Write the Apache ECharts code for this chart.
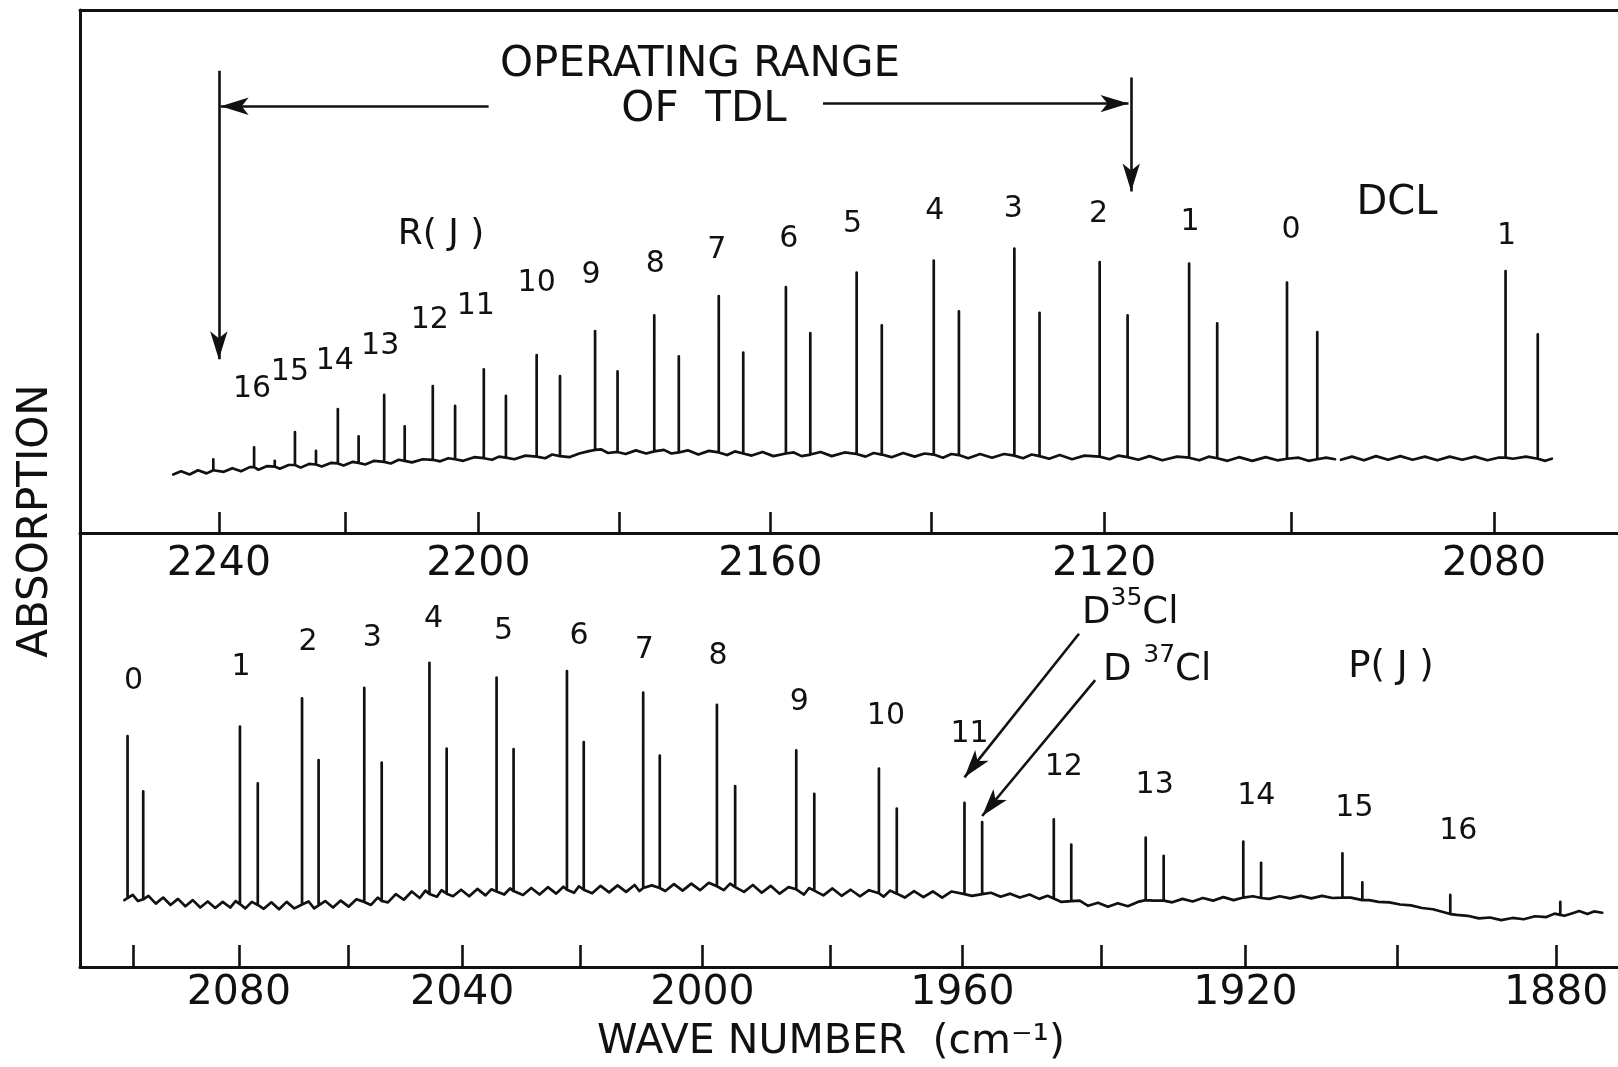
<!DOCTYPE html>
<html>
<head>
<meta charset="utf-8">
<title>DCl absorption spectrum</title>
<script src="https://cdn.jsdelivr.net/npm/echarts@6/dist/echarts.min.js"></script>
<style>
  html, body { margin: 0; padding: 0; background: #ffffff; }
  #chart { width: 1618px; height: 1067px; }
</style>
</head>
<body>
<div id="chart"></div>
<script>
// ---------------------------------------------------------------------------
// Wavenumber scales. The recorder paper is not linear in wavenumber: it follows
// log(nu - nu0) closely, so each panel uses a log axis on (nu - nu0) and the
// ticks are labelled back in cm^-1.
// ---------------------------------------------------------------------------
const TOP_NU0 = 1860;
const BOTTOM_NU0 = 1490;
const TOP_RANGE = [2263.3, 2068.6];      // left edge, right edge (cm^-1)
const BOTTOM_RANGE = [2110.2, 1872.5];

const TOP_TICKS = [2240, 2220, 2200, 2180, 2160, 2140, 2120, 2100, 2080];
const TOP_TICK_LABELS = [2240, 2200, 2160, 2120, 2080];
const BOTTOM_TICKS = [2100, 2080, 2060, 2040, 2020, 2000, 1980, 1960, 1940, 1920, 1900, 1880];
const BOTTOM_TICK_LABELS = [2080, 2040, 2000, 1960, 1920, 1880];

// ---------------------------------------------------------------------------
// Upper trace: R branch of DCl.  Lines are [nu, foot, peak] in relative absorption.
// ---------------------------------------------------------------------------
const TOP_J = ['16', '15', '14', '13', '12', '11', '10', '9', '8', '7', '6', '5', '4', '3', '2', '1', '0', '1'];
const TOP_D35 = [
  [2234.3, 12.6, 16.4], [2227.8, 13.0, 19.3], [2221.1, 13.3, 23.7], [2214.0, 13.6, 26.4],
  [2206.7, 14.0, 28.1], [2199.2, 14.3, 31.3], [2191.6, 14.6, 34.0], [2183.4, 15.9, 38.6],
  [2175.3, 15.6, 41.6], [2166.7, 15.4, 45.3], [2158.0, 15.2, 47.0], [2149.1, 15.1, 49.8],
  [2139.7, 15.0, 52.1], [2130.2, 14.8, 54.4], [2120.5, 14.6, 51.8], [2110.7, 14.4, 51.5],
  [2100.4, 14.2, 47.9], [2078.9, 14.4, 50.1]
];
const TOP_D37 = [
  [2231.0, 12.7, 13.8], [2224.5, 13.1, 15.7], [2217.9, 13.4, 18.5], [2210.9, 13.8, 20.4],
  [2203.4, 14.1, 24.3], [2196.0, 14.4, 26.2], [2188.3, 14.7, 30.0], [2180.3, 15.5, 30.9],
  [2172.0, 15.4, 33.8], [2163.5, 15.2, 34.5], [2154.9, 15.0, 38.2], [2146.0, 15.0, 39.7],
  [2136.7, 14.9, 42.4], [2127.3, 14.7, 42.1], [2117.4, 14.5, 41.6], [2107.7, 14.3, 40.1],
  [2097.3, 14.1, 38.4], [2075.9, 14.2, 38.0]
];
const TOP_MINOR = [[2240.9, 12.0, 14.1]];

// Baseline of the upper trace, two pen strokes with a short break near 2095 cm^-1.
const TOP_BASELINE_A = [
  [2247.5, 11.2], [2246.2, 11.8], [2244.8, 11.2], [2243.4, 12.0], [2242.0, 11.4], [2240.6, 12.0],
  [2239.2, 11.7], [2237.8, 12.4], [2236.4, 11.8], [2235.0, 12.6], [2233.6, 12.1], [2232.2, 12.8],
  [2230.2, 12.3], [2228.8, 13.0], [2226.9, 12.5], [2225.6, 13.2], [2223.6, 12.7], [2222.2, 13.4],
  [2220.2, 12.9], [2218.8, 13.6], [2216.9, 13.1], [2215.5, 13.8], [2213.0, 13.3], [2211.8, 14.0],
  [2209.8, 13.5], [2208.2, 14.1], [2205.6, 13.7], [2204.4, 14.3], [2202.2, 13.8], [2200.6, 14.5],
  [2198.0, 14.0], [2197.0, 14.6], [2194.8, 14.1], [2193.2, 14.8], [2190.4, 14.3], [2189.4, 15.0],
  [2187.0, 14.5], [2185.6, 15.2], [2184.4, 15.6], [2182.6, 16.0], [2181.6, 15.3], [2179.2, 15.1],
  [2177.8, 15.8], [2176.4, 15.2], [2174.0, 15.9], [2173.0, 15.2], [2170.8, 15.8], [2169.4, 15.0],
  [2168.0, 15.7], [2165.6, 14.9], [2164.6, 15.6], [2162.4, 14.8], [2161.0, 15.5], [2159.6, 14.7],
  [2157.0, 15.4], [2156.0, 14.7], [2153.6, 15.5], [2152.2, 14.7], [2150.6, 15.4], [2148.0, 14.6],
  [2147.0, 15.3], [2144.8, 14.5], [2143.4, 15.3], [2142.0, 14.6], [2140.8, 15.2], [2138.6, 14.4],
  [2137.6, 15.1], [2135.6, 14.3], [2134.2, 15.1], [2132.8, 14.4], [2131.4, 15.1], [2129.2, 14.3],
  [2128.2, 15.0], [2126.2, 14.2], [2125.0, 14.9], [2123.6, 14.1], [2122.2, 14.8], [2119.4, 14.1],
  [2118.4, 14.8], [2116.2, 14.0], [2115.0, 14.7], [2113.6, 13.9], [2112.0, 14.6], [2109.6, 13.9],
  [2108.6, 14.6], [2106.6, 13.8], [2105.4, 14.5], [2104.0, 13.8], [2102.6, 14.5], [2101.4, 13.9],
  [2099.2, 14.4], [2098.2, 13.8], [2096.4, 14.4], [2095.5, 14.1]
];
const TOP_BASELINE_B = [
  [2094.9, 14.0], [2093.8, 14.6], [2092.6, 13.9], [2091.4, 14.7], [2090.2, 14.0], [2089.0, 14.7],
  [2087.8, 14.0], [2086.6, 14.6], [2085.4, 13.9], [2084.2, 14.6], [2083.0, 14.0], [2081.8, 14.6],
  [2080.6, 13.9], [2079.6, 14.4], [2078.2, 14.2], [2077.0, 14.6], [2075.2, 13.8], [2074.6, 14.2]
];

// ---------------------------------------------------------------------------
// Lower trace: R(0) and the P branch of DCl.
// ---------------------------------------------------------------------------
const BOTTOM_J = ['0', '1', '2', '3', '4', '5', '6', '7', '8', '9', '10', '11', '12', '13', '14', '15', '16'];
const BOTTOM_D35 = [
  [2101.0, 15.9, 53.2], [2079.8, 14.5, 55.4], [2068.4, 14.4, 61.9], [2057.2, 15.0, 64.3],
  [2045.7, 16.8, 70.1], [2034.1, 17.4, 66.7], [2022.2, 17.8, 68.2], [2009.6, 18.2, 63.2],
  [1997.7, 18.6, 60.4], [1985.2, 17.9, 49.9], [1972.5, 17.0, 45.7], [1959.7, 16.8, 37.8],
  [1946.7, 15.8, 34.0], [1933.7, 15.4, 29.8], [1920.3, 16.0, 28.9], [1907.1, 16.0, 26.2],
  [1893.2, 12.2, 16.6]
];
const BOTTOM_D37 = [
  [2098.0, 15.6, 40.5], [2076.5, 14.3, 42.3], [2065.4, 14.2, 47.7], [2054.1, 15.2, 47.1],
  [2042.7, 16.9, 50.3], [2031.2, 17.5, 50.2], [2019.4, 17.8, 51.8], [2006.9, 18.2, 48.7],
  [1994.8, 18.4, 41.7], [1982.4, 17.6, 39.9], [1969.8, 16.9, 36.5], [1957.1, 16.8, 33.4],
  [1944.2, 15.2, 28.2], [1931.2, 15.3, 25.6], [1917.9, 15.9, 24.0], [1904.5, 15.4, 19.5]
];
const BOTTOM_MINOR = [[1879.5, 12.0, 15.0]];

const BOTTOM_BASELINE = [
  [2101.6, 15.4], [2100.0, 16.6], [2099.0, 15.2], [2097.0, 16.4], [2095.6, 14.6], [2094.2, 16.0],
  [2092.8, 14.3], [2091.4, 15.7], [2090.0, 14.0], [2088.6, 15.4], [2087.2, 13.7], [2085.8, 15.1],
  [2084.4, 13.6], [2083.0, 15.0], [2081.6, 13.7], [2080.6, 15.2], [2078.8, 13.5], [2077.6, 15.0],
  [2075.4, 13.4], [2074.0, 14.9], [2072.6, 13.3], [2071.2, 15.0], [2069.8, 13.5], [2067.2, 15.1],
  [2066.2, 13.5], [2064.2, 15.2], [2062.8, 13.7], [2061.4, 15.3], [2060.0, 13.9], [2058.6, 15.6],
  [2056.0, 14.3], [2054.8, 16.0], [2053.0, 14.9], [2051.6, 16.8], [2050.2, 15.5], [2048.8, 17.4],
  [2047.4, 15.9], [2046.4, 17.6], [2044.4, 16.2], [2043.6, 17.7], [2041.6, 16.3], [2040.2, 17.8],
  [2038.8, 16.3], [2037.4, 18.0], [2036.0, 16.5], [2035.0, 17.9], [2032.8, 16.7], [2031.8, 18.1],
  [2029.6, 16.6], [2028.2, 18.2], [2026.8, 16.7], [2025.4, 18.4], [2024.0, 16.9], [2022.8, 18.5],
  [2021.0, 17.1], [2020.2, 18.6], [2018.0, 17.0], [2016.6, 18.7], [2015.2, 17.2], [2013.8, 18.8],
  [2012.4, 17.3], [2011.0, 18.9], [2010.2, 17.5], [2008.2, 18.8], [2006.0, 17.5], [2004.6, 19.1],
  [2003.2, 17.6], [2001.8, 19.2], [2000.4, 17.7], [1999.0, 19.4], [1996.6, 17.7], [1995.6, 19.2],
  [1993.4, 17.3], [1992.0, 18.9], [1990.6, 17.1], [1989.2, 18.7], [1987.8, 16.9], [1986.4, 18.4],
  [1984.0, 16.7], [1983.2, 18.2], [1981.0, 16.5], [1979.6, 18.1], [1978.2, 16.4], [1976.8, 17.8],
  [1975.4, 16.3], [1974.0, 17.7], [1971.8, 16.2], [1970.8, 17.6], [1968.6, 16.0], [1967.2, 17.5],
  [1965.8, 16.1], [1964.4, 17.4], [1963.0, 16.0], [1961.6, 17.4], [1958.6, 16.4], [1955.8, 17.1],
  [1954.4, 16.2], [1953.0, 16.9], [1951.6, 16.0], [1950.2, 16.7], [1948.8, 15.7], [1947.6, 16.4],
  [1945.6, 15.0], [1943.0, 15.3], [1941.8, 14.1], [1940.4, 14.8], [1939.0, 13.9], [1937.6, 14.7],
  [1936.2, 14.0], [1934.8, 15.0], [1932.6, 15.3], [1930.0, 14.9], [1928.6, 15.7], [1927.2, 15.1],
  [1925.8, 15.9], [1924.4, 15.3], [1923.0, 16.1], [1921.6, 15.4], [1919.0, 16.3], [1916.8, 15.7],
  [1915.4, 16.3], [1914.0, 15.8], [1912.6, 16.4], [1911.2, 15.8], [1909.8, 16.4], [1908.4, 15.9],
  [1906.0, 16.0], [1903.6, 15.4], [1902.4, 15.0], [1901.0, 14.9], [1899.6, 14.4], [1898.2, 14.2],
  [1896.8, 13.6], [1895.4, 13.3], [1894.0, 12.6], [1892.4, 12.0], [1891.0, 11.8], [1889.6, 11.2],
  [1888.2, 11.4], [1886.8, 10.8], [1885.4, 11.3], [1884.0, 11.0], [1882.6, 11.7], [1881.2, 11.5],
  [1880.2, 12.3], [1879.0, 11.8], [1878.0, 12.4], [1877.2, 12.9], [1876.2, 12.2], [1875.4, 12.8],
  [1874.4, 12.5]
];

// Annotated wavenumbers: limits of the tunable diode laser scan, and the
// isotope pair pointed out in the P branch.
const TDL_LIMITS = [2240.0, 2117.0];
const ISOTOPE_LINES = [1959.7, 1957.1];

// ---------------------------------------------------------------------------
// Layout and style
// ---------------------------------------------------------------------------
const INK = '#111111';
const FONT = 'DejaVu Sans';
const GRID_LEFT = 80;
const TOP_GRID = { top: 10, height: 523 };
const BOTTOM_GRID = { top: 533, height: 434 };

// Pixel offsets of each line number from the top of its line.
const TOP_LABEL_OFFSET = [
  [-2, -58], [-5, -60], [-3, -48], [-4, -49], [-3, -66], [-8, -63], [0, -72], [-4, -56], [1, -51],
  [-2, -46], [3, -48], [-4, -48], [1, -49], [-1, -39], [-1, -48], [1, -41], [4, -52], [1, -35]
];
const BOTTOM_LABEL_OFFSET = [
  [6, -55], [1, -59], [6, -56], [8, -50], [4, -44], [7, -46], [12, -35], [1, -43], [1, -49],
  [3, -48], [7, -52], [5, -69], [10, -52], [9, -52], [13, -45], [12, -45], [8, -64]
];

// Merge the baseline samples of one pen stroke with the absorption lines that
// fall inside it; each line is drawn foot -> peak -> foot.
function buildStroke(baseline, lineLists, nu0) {
  const hi = baseline[0][0];
  const lo = baseline[baseline.length - 1][0];
  const items = baseline.map(p => ({ nu: p[0], pts: [[p[0], p[1]]] }));
  lineLists.forEach(list => list.forEach(l => {
    if (l[0] <= hi && l[0] >= lo) {
      items.push({ nu: l[0], pts: [[l[0], l[1]], [l[0], l[2]], [l[0], l[1]]] });
    }
  }));
  items.sort((a, b) => b.nu - a.nu);
  const out = [];
  items.forEach(it => it.pts.forEach(q => out.push([q[0] - nu0, q[1]])));
  return out;
}

function traceSeries(data, xi, yi) {
  return {
    type: 'line', xAxisIndex: xi, yAxisIndex: yi, data: data,
    showSymbol: false, symbol: 'none', silent: true, animation: false,
    lineStyle: { color: INK, width: 2.7, join: 'round', cap: 'round' },
    z: 3
  };
}

function labelSeries(lines, names, offsets, nu0, xi, yi, markLines) {
  return {
    type: 'scatter', xAxisIndex: xi, yAxisIndex: yi, symbolSize: 0, silent: true,
    animation: false, z: 4,
    itemStyle: { color: INK, opacity: 1 },
    data: lines.map((l, i) => ({
      value: [l[0] - nu0, l[2]], name: names[i],
      label: { offset: offsets[i] }
    })),
    label: {
      show: true, position: 'inside', formatter: '{b}', color: INK, opacity: 1,
      textBorderWidth: 0, fontFamily: FONT, fontSize: 30,
      align: 'center', verticalAlign: 'middle'
    },
    markLine: {
      silent: true, animation: false, symbol: ['none', 'arrow'], symbolSize: [13, 28],
      label: { show: false }, emphasis: { disabled: true },
      lineStyle: { color: INK, width: 2.6, type: 'solid', opacity: 1 },
      data: markLines
    }
  };
}

function wavenumberAxis(grid, nu0, range, ticks, labels, tickLen, margin) {
  return {
    type: 'log', gridIndex: grid, inverse: true,
    min: range[1] - nu0, max: range[0] - nu0,
    axisLine: { show: true, lineStyle: { color: INK, width: 3 } },
    axisTick: {
      show: true, inside: true, length: tickLen,
      lineStyle: { color: INK, width: 2.6 },
      customValues: ticks.map(v => v - nu0)
    },
    axisLabel: {
      show: true, customValues: labels.map(v => v - nu0),
      formatter: v => String(Math.round(v + nu0)),
      color: INK, fontFamily: FONT, fontSize: 41, margin: margin
    },
    minorTick: { show: false }, splitLine: { show: false }, minorSplitLine: { show: false }
  };
}

function frameYAxis(grid) {
  return {
    type: 'value', gridIndex: grid, min: 0, max: 100,
    axisLine: { show: true, lineStyle: { color: INK, width: 3 } },
    axisTick: { show: false }, axisLabel: { show: false }, splitLine: { show: false }
  };
}

const topArrows = [
  // left limit: drop arrow and the pointer from the caption
  [{ coord: [TDL_LIMITS[0] - TOP_NU0, 88.4] }, { coord: [TDL_LIMITS[0] - TOP_NU0, 33.2] }],
  [{ coord: [2198.5 - TOP_NU0, 81.6] }, { coord: [TDL_LIMITS[0] - 0.3 - TOP_NU0, 81.6] }],
  // right limit
  [{ coord: [TDL_LIMITS[1] - TOP_NU0, 87.1] }, { coord: [TDL_LIMITS[1] - TOP_NU0, 65.3] }],
  [{ coord: [2153.3 - TOP_NU0, 82.1] }, { coord: [TDL_LIMITS[1] + 0.3 - TOP_NU0, 82.1] }]
];
const bottomArrows = [
  [{ coord: [1943.1 - BOTTOM_NU0, 76.8] }, { coord: [ISOTOPE_LINES[0] - BOTTOM_NU0, 43.7] }],
  [{ coord: [1940.8 - BOTTOM_NU0, 66.1] }, { coord: [ISOTOPE_LINES[1] - BOTTOM_NU0, 34.8] }]
];

function txt(x, y, text, size, extra) {
  return Object.assign({
    type: 'text', x: x, y: y, silent: true,
    style: {
      text: text, fill: INK, fontFamily: FONT, fontSize: size,
      textAlign: 'center', textVerticalAlign: 'middle'
    }
  }, extra || {});
}

// Isotope captions: element symbol with a raised mass number.
function isotopeText(x, y, text) {
  return {
    type: 'text', x: x, y: y, silent: true,
    style: {
      text: text, textAlign: 'left', textVerticalAlign: 'middle',
      fontFamily: FONT, fontSize: 37, fill: INK,
      rich: {
        d: { fontFamily: FONT, fontSize: 37, fill: INK, lineHeight: 46, verticalAlign: 'bottom' },
        s: { fontFamily: FONT, fontSize: 25, fill: INK, lineHeight: 26, verticalAlign: 'top' }
      }
    }
  };
}

const chart = echarts.init(document.getElementById('chart'), null, { renderer: 'canvas' });

chart.setOption({
  backgroundColor: '#ffffff',
  animation: false,
  grid: [
    { left: GRID_LEFT, right: 0, top: TOP_GRID.top, height: TOP_GRID.height, containLabel: false },
    { left: GRID_LEFT, right: 0, top: BOTTOM_GRID.top, height: BOTTOM_GRID.height, containLabel: false }
  ],
  xAxis: [
    wavenumberAxis(0, TOP_NU0, TOP_RANGE, TOP_TICKS, TOP_TICK_LABELS, 21, 11),
    wavenumberAxis(1, BOTTOM_NU0, BOTTOM_RANGE, BOTTOM_TICKS, BOTTOM_TICK_LABELS, 22, 6),
    {
      // top edge of the frame
      type: 'value', gridIndex: 0, position: 'top', min: 0, max: 1,
      axisLine: { show: true, lineStyle: { color: INK, width: 3 } },
      axisTick: { show: false }, axisLabel: { show: false }, splitLine: { show: false }
    }
  ],
  yAxis: [frameYAxis(0), frameYAxis(1)],
  series: [
    traceSeries(buildStroke(TOP_BASELINE_A, [TOP_D35, TOP_D37, TOP_MINOR], TOP_NU0), 0, 0),
    traceSeries(buildStroke(TOP_BASELINE_B, [TOP_D35, TOP_D37, TOP_MINOR], TOP_NU0), 0, 0),
    traceSeries(buildStroke(BOTTOM_BASELINE, [BOTTOM_D35, BOTTOM_D37, BOTTOM_MINOR], BOTTOM_NU0), 1, 1),
    labelSeries(TOP_D35, TOP_J, TOP_LABEL_OFFSET, TOP_NU0, 0, 0, topArrows),
    labelSeries(BOTTOM_D35, BOTTOM_J, BOTTOM_LABEL_OFFSET, BOTTOM_NU0, 1, 1, bottomArrows)
  ],
  graphic: [
    txt(700, 65, 'OPERATING RANGE', 42),
    txt(704, 110, 'OF  TDL', 42),
    txt(441, 235, 'R( J )', 36),
    txt(1397, 204, 'DCL', 40),
    txt(1391, 667, 'P( J )', 37),
    isotopeText(1082, 609, '{d|D}{s|35}{d|Cl}'),
    isotopeText(1103, 666, '{d|D }{s|37}{d|Cl}'),
    txt(36, 521, 'ABSORPTION', 42, { rotation: Math.PI / 2 }),
    txt(831, 1042, 'WAVE NUMBER  (cm⁻¹)', 41)
  ]
});
</script>
</body>
</html>
